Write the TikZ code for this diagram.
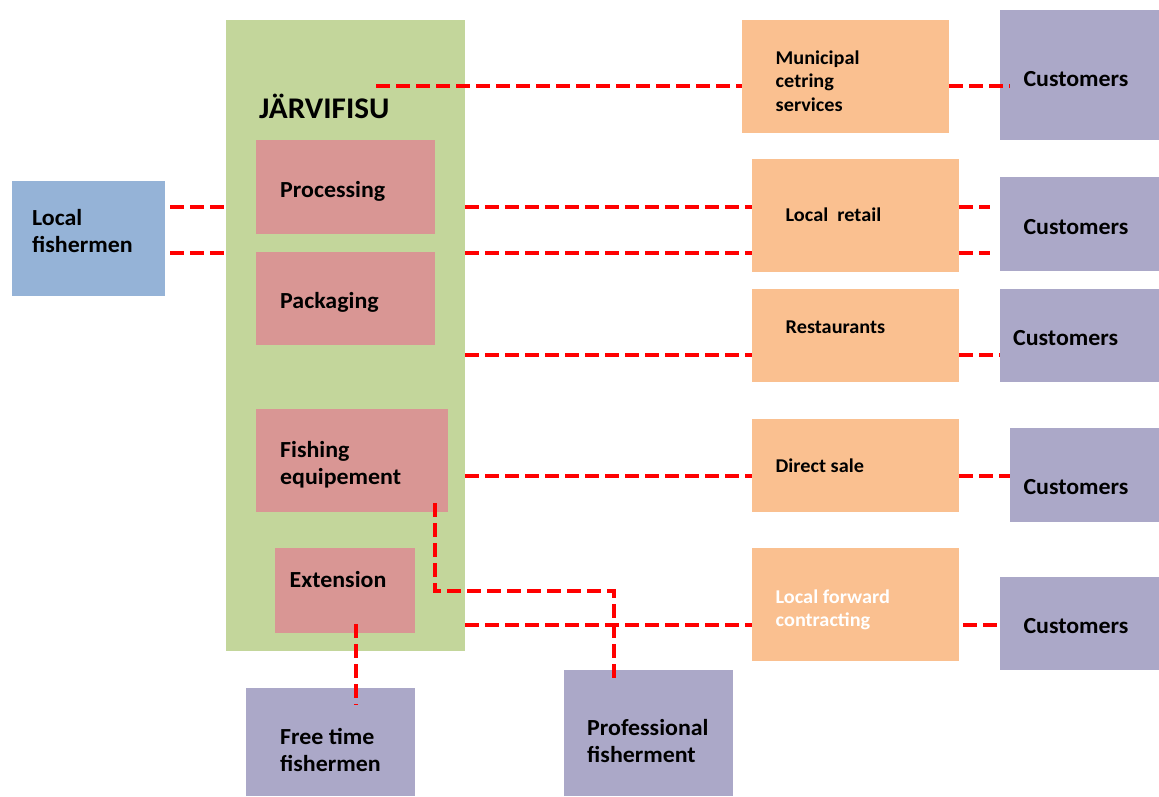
\documentclass[tikz,border=0pt]{standalone}
\usepackage{fontspec}
\setmainfont{Carlito}[FakeStretch=1.04]
\usetikzlibrary{calc}
\definecolor{gr}{HTML}{C3D69B}
\definecolor{bl}{HTML}{95B3D7}
\definecolor{pk}{HTML}{D99694}
\definecolor{og}{HTML}{FAC090}
\definecolor{pu}{HTML}{ABA8C8}
\definecolor{rd}{HTML}{FF0000}
\tikzset{
  box/.style={draw=none, inner sep=0pt, outer sep=0pt, anchor=north west},
  conn/.style={draw=rd, line width=4pt, dash pattern=on 14pt off 6pt},
  bigtxt/.style={anchor=base west, inner sep=0pt, align=left, font=\bfseries\fontsize{23}{27}\selectfont},
  smalltxt/.style={anchor=base west, inner sep=0pt, align=left, font=\bfseries\fontsize{19.5}{23.5}\selectfont},
  titletxt/.style={anchor=base west, inner sep=0pt, font=\bfseries\fontsize{30}{34}\selectfont},
}
\begin{document}
\begin{tikzpicture}[x=1pt,y=-1pt]
\useasboundingbox (0,0) rectangle (1159,796);
% boxes
\node[box, fill=bl, minimum width=153pt, minimum height=115pt] (lf) at (12,181) {};
\node[box, fill=gr, minimum width=239pt, minimum height=631pt] (jf) at (226,20) {};
\node[box, fill=pk, minimum width=179pt, minimum height=94pt] (proc) at (256,140) {};
\node[box, fill=pk, minimum width=179pt, minimum height=93pt] (pack) at (256,252) {};
\node[box, fill=pk, minimum width=192pt, minimum height=103pt] (fe) at (256,409) {};
\node[box, fill=pk, minimum width=140pt, minimum height=85pt] (ext) at (275,548) {};
\node[box, fill=pu, minimum width=169pt, minimum height=108pt] (ft) at (246,688) {};
\node[box, fill=pu, minimum width=169pt, minimum height=126pt] (pf) at (564,670) {};
\node[box, fill=og, minimum width=207pt, minimum height=113pt] (mun) at (742,20) {};
\node[box, fill=og, minimum width=207pt, minimum height=113pt] (lr) at (752,159) {};
\node[box, fill=og, minimum width=207pt, minimum height=93pt] (rest) at (752,289) {};
\node[box, fill=og, minimum width=207pt, minimum height=93pt] (ds) at (752,419) {};
\node[box, fill=og, minimum width=207pt, minimum height=113pt] (lfc) at (752,548) {};
\node[box, fill=pu, minimum width=159pt, minimum height=130pt] (c1) at (1000,10) {};
\node[box, fill=pu, minimum width=159pt, minimum height=94pt] (c2) at (1000,177) {};
\node[box, fill=pu, minimum width=159pt, minimum height=93pt] (c3) at (1000,289) {};
\node[box, fill=pu, minimum width=149pt, minimum height=94pt] (c4) at (1010,428) {};
\node[box, fill=pu, minimum width=159pt, minimum height=93pt] (c5) at (1000,577) {};
% texts (base = baseline of last line)
\node[bigtxt] (tlf) at (32,252) {Local\\fishermen};
\node[titletxt] (tjf) at (259,118.7) {JÄRVIFISU};
\node[bigtxt] (tproc) at (280,197.3) {Processing};
\node[bigtxt] (tpack) at (280,308.3) {Packaging};
\node[bigtxt] (tfe) at (280,484.3) {Fishing\\equipement};
\node[bigtxt] (text) at (289.5,587.3) {Extension};
\node[bigtxt] (tft) at (280,771.7) {Free time\\fishermen};
\node[bigtxt] (tpf) at (587,762.7) {Professional\\fisherment};
\node[smalltxt] (tmun) at (775.5,111) {Municipal\\cetring\\services};
\node[smalltxt] (tlr) at (785.5,221.7) {Local\ \ retail};
\node[smalltxt] (trest) at (785.5,333.3) {Restaurants};
\node[smalltxt] (tds) at (775.5,472) {Direct sale};
\node[smalltxt, text=white] (tlfc) at (775.5,626.7) {Local forward\\contracting};
\node[bigtxt] (tc1) at (1023.3,86) {Customers};
\node[bigtxt] (tc2) at (1023.3,234.3) {Customers};
\node[bigtxt] (tc3) at (1013,345.7) {Customers};
\node[bigtxt] (tc4) at (1023.3,494.3) {Customers};
\node[bigtxt] (tc5) at (1023.3,633.3) {Customers};
% connector reference coordinates
\coordinate (ms) at (376,86);
\coordinate (r1) at (0,207);
\coordinate (r2) at (0,253);
\coordinate (r3) at (0,355);
\coordinate (r4) at (0,476);
\coordinate (r5) at (0,625);
\coordinate (fa) at (435,503);
\coordinate (fb) at (614,591);
\coordinate (ea) at (356,624);
% connectors
\draw[conn] (ms) -- (mun.west|-ms);
\draw[conn] (mun.east|-ms) -- ([xshift=10pt]c1.west|-ms);
\draw[conn] ([xshift=5pt]lf.east|-r1) -- (jf.west|-r1);
\draw[conn] ([xshift=5pt]lf.east|-r2) -- (jf.west|-r2);
\draw[conn] (jf.east|-r1) -- (lr.west|-r1);
\draw[conn] (jf.east|-r2) -- (lr.west|-r2);
\draw[conn] (lr.east|-r1) -- ([xshift=-10pt]c2.west|-r1);
\draw[conn] (lr.east|-r2) -- ([xshift=-10pt]c2.west|-r2);
\draw[conn] (jf.east|-r3) -- (rest.west|-r3);
\draw[conn] (rest.east|-r3) -- (c3.west|-r3);
\draw[conn] (jf.east|-r4) -- (ds.west|-r4);
\draw[conn] (ds.east|-r4) -- (c4.west|-r4);
\draw[conn] (jf.east|-r5) -- (lfc.west|-r5);
\draw[conn] ([xshift=4pt]lfc.east|-r5) -- (c5.west|-r5);
\draw[conn] (fa) |- (fb) -- ([yshift=-9pt]fb|-pf.north);
\draw[conn] (ea) -- ([yshift=-17pt]ea|-ft.north);
\end{tikzpicture}
\end{document}
